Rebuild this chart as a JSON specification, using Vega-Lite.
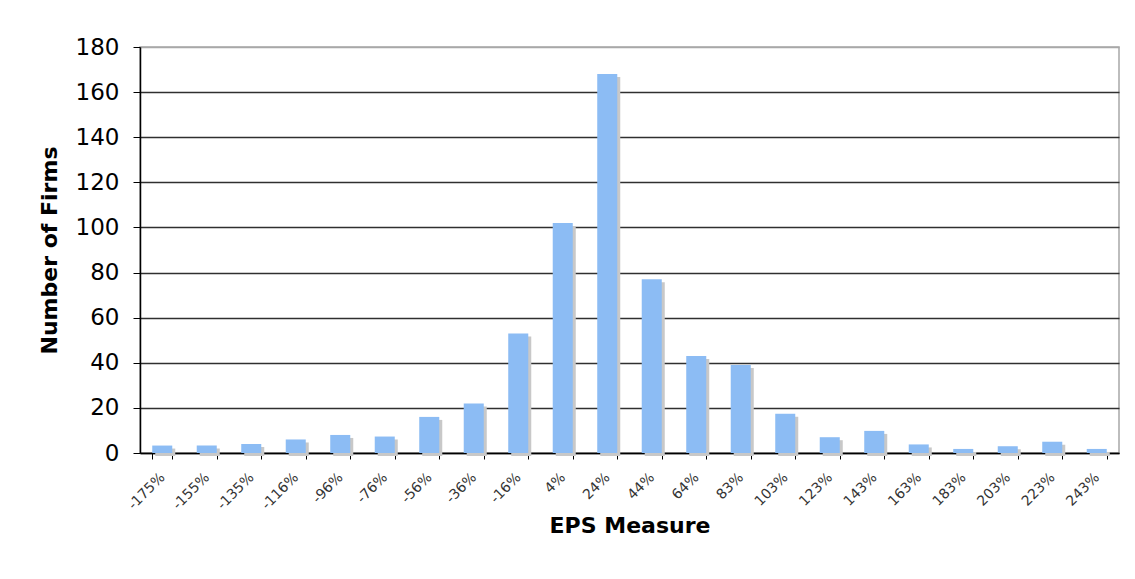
{
  "$schema": "https://vega.github.io/schema/vega-lite/v6.json",
  "autosize": "none",
  "width": 979,
  "height": 406,
  "padding": {"left": 140, "top": 47, "right": 16, "bottom": 126},
  "background": "white",
  "data": {
    "values": [
      {"bin": "-175%", "firms": 3.3},
      {"bin": "-155%", "firms": 3.3},
      {"bin": "-135%", "firms": 4},
      {"bin": "-116%", "firms": 6},
      {"bin": "-96%", "firms": 8},
      {"bin": "-76%", "firms": 7.3},
      {"bin": "-56%", "firms": 16},
      {"bin": "-36%", "firms": 22},
      {"bin": "-16%", "firms": 53},
      {"bin": "4%", "firms": 102},
      {"bin": "24%", "firms": 168},
      {"bin": "44%", "firms": 77},
      {"bin": "64%", "firms": 43},
      {"bin": "83%", "firms": 39},
      {"bin": "103%", "firms": 17.4},
      {"bin": "123%", "firms": 7},
      {"bin": "143%", "firms": 9.8},
      {"bin": "163%", "firms": 3.8},
      {"bin": "183%", "firms": 1.8},
      {"bin": "203%", "firms": 3},
      {"bin": "223%", "firms": 5},
      {"bin": "243%", "firms": 1.8}
    ]
  },
  "encoding": {
    "x": {
      "field": "bin",
      "type": "ordinal",
      "sort": null,
      "scale": {"paddingInner": 0.55, "paddingOuter": 0.275},
      "axis": {
        "title": "EPS Measure",
        "labelAngle": -45,
        "labelAlign": "right",
        "labelBaseline": "middle",
        "labelFont": "DejaVu Sans",
        "labelFontSize": 14,
        "labelColor": "#333333",
        "labelPadding": 16,
        "tickBand": "extent",
        "tickSize": 6,
        "tickColor": "#000000",
        "domainColor": "#000000",
        "domainWidth": 1.5,
        "titleFont": "DejaVu Sans",
        "titleFontSize": 22,
        "titleFontWeight": "bold",
        "titleColor": "#000000",
        "titlePadding": 4
      }
    },
    "y": {
      "field": "firms",
      "type": "quantitative",
      "scale": {"domain": [0, 180], "nice": false},
      "axis": {
        "title": "Number of Firms",
        "values": [0, 20, 40, 60, 80, 100, 120, 140, 160, 180],
        "labelFont": "DejaVu Sans",
        "labelFontSize": 23,
        "labelColor": "#000000",
        "labelPadding": 14,
        "tickSize": 7,
        "tickColor": "#000000",
        "domainColor": "#000000",
        "domainWidth": 1.5,
        "grid": true,
        "gridColor": {"condition": {"test": "datum.value === 180", "value": "#a8a8a8"}, "value": "#303030"},
        "gridWidth": 1.5,
        "titleFont": "DejaVu Sans",
        "titleFontSize": 22,
        "titleFontWeight": "bold",
        "titleColor": "#000000",
        "titlePadding": 14
      }
    }
  },
  "layer": [
    {
      "mark": {"type": "bar", "color": "#c8c8c8", "xOffset": 3, "yOffset": 3}
    },
    {
      "mark": {"type": "bar", "color": "#8cbcf4"}
    }
  ],
  "config": {
    "view": {"stroke": "#a8a8a8", "strokeWidth": 1.5}
  }
}
